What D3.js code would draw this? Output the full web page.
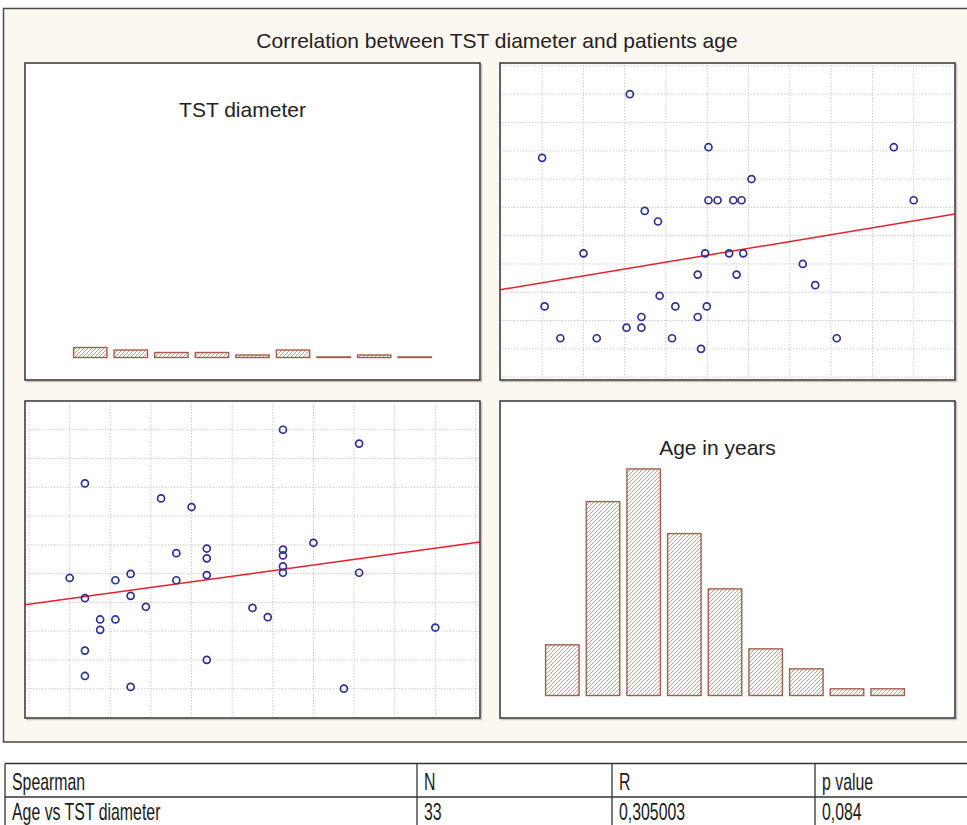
<!DOCTYPE html>
<html lang="en">
<head>
<meta charset="utf-8">
<title>Correlation between TST diameter and patients age</title>
<script src="https://cdnjs.cloudflare.com/ajax/libs/d3/7.8.5/d3.min.js"></script>
<style>
  body { margin: 0; background: #fff; }
  text { font-family: "Liberation Sans", Arial, sans-serif; }
</style>
</head>
<body>
<script>
// age (years) and TST diameter (mm) of each patient
var ages = [30.6, 20.0, 40.1, 62.5, 45.3, 40.1, 41.2, 43.1, 44.1, 64.9,
            32.4, 34.0, 25.0, 39.7, 42.6, 44.3, 51.5, 38.8, 43.5, 53.0,
            34.2, 20.3, 36.1, 39.9, 32.0, 38.8, 30.2, 32.0, 22.2, 26.6,
            35.7, 55.6, 39.2];
var tst  = [24, 18, 19, 19, 16, 14, 14, 14, 14, 14,
            13, 12, 9, 9, 9, 9, 8, 7, 7, 6,
            5, 4, 4, 4, 3, 3, 2, 2, 1, 1,
            1, 1, 0];

// histogram bins (9 each)
var tstFreq = [4, 3, 2, 2, 1, 3, 0, 1, 0];
var ageFreq = [7.6, 29.1, 34, 24.3, 16, 7, 4, 1, 1];

var mainTitle = "Correlation between TST diameter and patients age";
var tableHead = ["Spearman", "N", "R", "p value"];
var tableRow  = ["Age vs TST diameter", "33", "0,305003", "0,084"];

var W = 967, H = 825;
var pw = 455, ph = 317;
var panels = {
  tl: {x: 25,  y: 63},
  tr: {x: 500, y: 63},
  bl: {x: 25,  y: 401},
  br: {x: 500, y: 401}
};

var svg = d3.select("body").append("svg")
    .attr("width", W)
    .attr("height", H);

var defs = svg.append("defs");
var hatch = defs.append("pattern")
    .attr("id", "hatch")
    .attr("patternUnits", "userSpaceOnUse")
    .attr("width", 4)
    .attr("height", 4);
hatch.append("rect").attr("width", 4).attr("height", 4).attr("fill", "#fff");
hatch.append("path")
    .attr("d", "M-1,1 l2,-2 M0,4 l4,-4 M3,5 l2,-2")
    .attr("stroke", "#bd8171")
    .attr("stroke-width", 0.8);

// outer frame
svg.append("rect")
    .attr("x", 3.5).attr("y", 8.5)
    .attr("width", 990).attr("height", 733.5)
    .attr("fill", "#fcf7ef")
    .attr("stroke", "#4a4a4a")
    .attr("stroke-width", 1.5);

svg.append("text")
    .attr("x", 497).attr("y", 48)
    .attr("text-anchor", "middle")
    .attr("font-size", 21)
    .attr("fill", "#222")
    .text(mainTitle);

// panel boxes
Object.keys(panels).forEach(function(k) {
  var p = panels[k];
  svg.append("rect")
      .attr("x", p.x + 1.5).attr("y", p.y + 1.5)
      .attr("width", pw).attr("height", ph)
      .attr("fill", "none")
      .attr("stroke", "#c9c4bd")
      .attr("stroke-width", 1.5);
  svg.append("rect")
      .attr("x", p.x).attr("y", p.y)
      .attr("width", pw).attr("height", ph)
      .attr("fill", "#fff");
  defs.append("clipPath").attr("id", "clip-" + k)
    .append("rect")
      .attr("x", p.x).attr("y", p.y)
      .attr("width", pw).attr("height", ph);
});

// scales: data range split in 9 steps, ~1 step of padding each side
var ageMin = d3.min(ages), ageMax = d3.max(ages), ageStep = (ageMax - ageMin) / 9;
var tstMin = d3.min(tst),  tstMax = d3.max(tst),  tstStep = (tstMax - tstMin) / 9;
var ageDom = [ageMin - 1.02 * ageStep, ageMax + 1.0 * ageStep];
var tstDom = [tstMin - 1.1 * tstStep, tstMax + 1.1 * tstStep];
var ageGrid = d3.range(-1, 11).map(function(k) { return ageMin + k * ageStep; });
var tstGrid = d3.range(-1, 11).map(function(k) { return tstMin + k * tstStep; });

var points = ages.map(function(a, i) { return {age: a, tst: tst[i]}; });

function fit(xs, ys) {
  var mx = d3.mean(xs), my = d3.mean(ys);
  var sxy = d3.sum(xs, function(v, i) { return (v - mx) * (ys[i] - my); });
  var sxx = d3.sum(xs, function(v) { return (v - mx) * (v - mx); });
  var b = sxy / sxx;
  return {a: my - b * mx, b: b};
}

function scatter(key, xKey, yKey, xDom, yDom, xGrid, yGrid) {
  var p = panels[key];
  var x = d3.scaleLinear().domain(xDom).range([p.x, p.x + pw]);
  var y = d3.scaleLinear().domain(yDom).range([p.y + ph, p.y]);
  var g = svg.append("g").attr("clip-path", "url(#clip-" + key + ")");

  g.selectAll(".vg").data(xGrid.filter(function(v) { return x(v) > p.x && x(v) < p.x + pw - 1; }))
    .enter().append("line")
      .attr("x1", function(d) { return x(d); }).attr("x2", function(d) { return x(d); })
      .attr("y1", p.y + 2).attr("y2", p.y + ph - 2)
      .attr("stroke", "#cccccc").attr("stroke-width", 1)
      .attr("stroke-dasharray", "1.5,1.5");
  g.selectAll(".hg").data(yGrid.filter(function(v) { return y(v) > p.y + 1 && y(v) < p.y + ph - 1; }))
    .enter().append("line")
      .attr("y1", function(d) { return y(d); }).attr("y2", function(d) { return y(d); })
      .attr("x1", p.x + 2).attr("x2", p.x + pw - 2)
      .attr("stroke", "#cccccc").attr("stroke-width", 1)
      .attr("stroke-dasharray", "1.5,1.5");

  var f = fit(points.map(function(d) { return d[xKey]; }), points.map(function(d) { return d[yKey]; }));
  g.append("line")
      .attr("x1", x(xDom[0])).attr("y1", y(f.a + f.b * xDom[0]))
      .attr("x2", x(xDom[1])).attr("y2", y(f.a + f.b * xDom[1]))
      .attr("stroke", "#e8202a").attr("stroke-width", 1.5);

  g.selectAll("circle").data(points)
    .enter().append("circle")
      .attr("cx", function(d) { return x(d[xKey]); })
      .attr("cy", function(d) { return y(d[yKey]); })
      .attr("r", 3.5)
      .attr("fill", "none")
      .attr("stroke", "#2e3192")
      .attr("stroke-width", 1.7);
}

scatter("tr", "age", "tst", ageDom, tstDom, ageGrid, tstGrid);
scatter("bl", "tst", "age", tstDom, ageDom, tstGrid, ageGrid);

function histogram(key, freq, vMin, vStep, r0, r1, yTop, title) {
  var p = panels[key];
  var x = d3.scaleLinear().domain([vMin, vMin + 9 * vStep]).range([p.x + r0, p.x + r1]);
  var base = p.y + ph - 22.5;
  var y = d3.scaleLinear().domain([0, yTop]).range([base, p.y]);
  svg.append("g").selectAll("rect").data(freq)
    .enter().append("rect")
      .attr("x", function(d, i) { return x(vMin + i * vStep) + 3.6; })
      .attr("width", function(d, i) { return x(vMin + (i + 1) * vStep) - x(vMin + i * vStep) - 7.2; })
      .attr("y", function(d) { return Math.min(y(d), base - 0.6); })
      .attr("height", function(d) { return Math.max(base - y(d), 0.6); })
      .attr("fill", "url(#hatch)")
      .attr("stroke", "#a35d4e")
      .attr("stroke-width", 1.4);
  svg.append("text")
      .attr("x", p.x + pw / 2 - 10).attr("y", p.y + 54)
      .attr("text-anchor", "middle")
      .attr("font-size", 21)
      .attr("fill", "#222")
      .text(title);
}

histogram("tl", tstFreq, tstMin, tstStep, 45, 410, 118, "TST diameter");
histogram("br", ageFreq, ageMin, ageStep, 42, 408, 44.2, "Age in years");

// panel borders on top
Object.keys(panels).forEach(function(k) {
  var p = panels[k];
  svg.append("rect")
      .attr("x", p.x).attr("y", p.y)
      .attr("width", pw).attr("height", ph)
      .attr("fill", "none")
      .attr("stroke", "#333")
      .attr("stroke-width", 1.5);
});

// Spearman table
var cols = [5, 417, 612, 815];
var rowLines = [763.5, 797];
var tg = svg.append("g");
tg.selectAll(".rl").data(rowLines).enter().append("line")
    .attr("x1", cols[0]).attr("x2", W + 5)
    .attr("y1", function(d) { return d; }).attr("y2", function(d) { return d; })
    .attr("stroke", "#333").attr("stroke-width", 1.3);
tg.selectAll(".cl").data(cols).enter().append("line")
    .attr("x1", function(d) { return d; }).attr("x2", function(d) { return d; })
    .attr("y1", rowLines[0]).attr("y2", H + 5)
    .attr("stroke", "#333").attr("stroke-width", 1.3);

[tableHead, tableRow].forEach(function(row, r) {
  tg.selectAll(".t" + r).data(row).enter().append("text")
      .attr("transform", function(d, i) {
        return "translate(" + (cols[i] + 7) + "," + (790 + r * 30) + ") scale(0.69,1)";
      })
      .attr("font-size", 23)
      .attr("fill", "#1a1a1a")
      .text(function(d) { return d; });
});
</script>
</body>
</html>
